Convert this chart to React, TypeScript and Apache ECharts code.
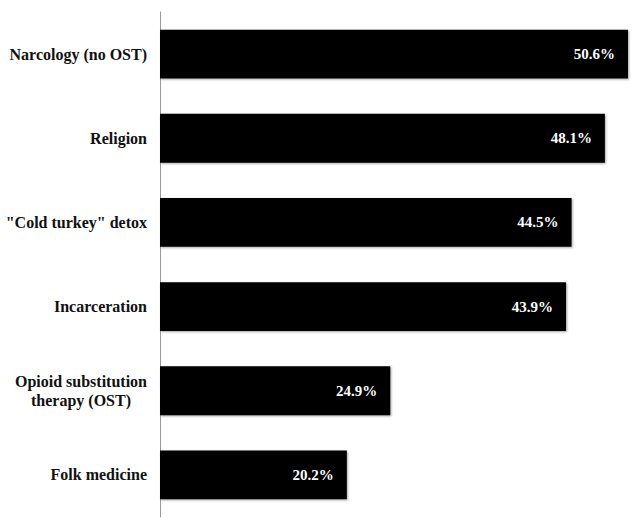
import React, { useEffect, useRef } from "react";
import * as echarts from "echarts";

const categories = [
  "Narcology (no OST)",
  "Religion",
  "\"Cold turkey\" detox",
  "Incarceration",
  "Opioid substitution\ntherapy (OST)",
  "Folk medicine",
];
const values = [50.6, 48.1, 44.5, 43.9, 24.9, 20.2];

export default function App() {
  const ref = useRef<HTMLDivElement>(null);
  useEffect(() => {
    if (!ref.current) return;
    const chart = echarts.init(ref.current, null, { renderer: "svg" });
    const serif = "Liberation Serif";
    chart.setOption({
      animation: false,
      backgroundColor: "#ffffff",
      grid: { left: 160, right: 13, top: 12, bottom: 8, containLabel: false },
      xAxis: {
        type: "value",
        min: 0,
        max: 50.6,
        show: false,
      },
      yAxis: {
        type: "category",
        data: categories,
        inverse: true,
        axisLine: { show: true, lineStyle: { color: "#9a9a9a", width: 1 } },
        axisTick: { show: false },
        axisLabel: {
          margin: 13,
          color: "#111111",
          fontFamily: serif,
          fontWeight: "bold",
          fontSize: 16,
          lineHeight: 19,
          formatter: (v: string) =>
            v
              .split("\n")
              .map((l) => "{c|" + l + "}")
              .join("\n"),
          rich: {
            c: {
              align: "center",
              fontFamily: serif,
              fontWeight: "bold",
              fontSize: 16,
              lineHeight: 19,
              color: "#111111",
            },
          },
        },
      },
      series: [
        {
          type: "bar",
          data: values,
          barCategoryGap: "42%",
          itemStyle: {
            color: "#000000",
            shadowColor: "rgba(0,0,0,0.35)",
            shadowBlur: 2,
            shadowOffsetX: 1,
            shadowOffsetY: 1,
          },
          label: {
            show: true,
            position: "insideRight",
            distance: 13,
            color: "#ffffff",
            fontFamily: serif,
            fontWeight: "bold",
            fontSize: 15,
            formatter: (p: any) => p.value.toFixed(1) + "%",
          },
        },
      ],
    });
    return () => chart.dispose();
  }, []);
  return (
    <div
      ref={ref}
      style={{ position: "fixed", left: 0, top: 0, width: 641, height: 525 }}
    />
  );
}
